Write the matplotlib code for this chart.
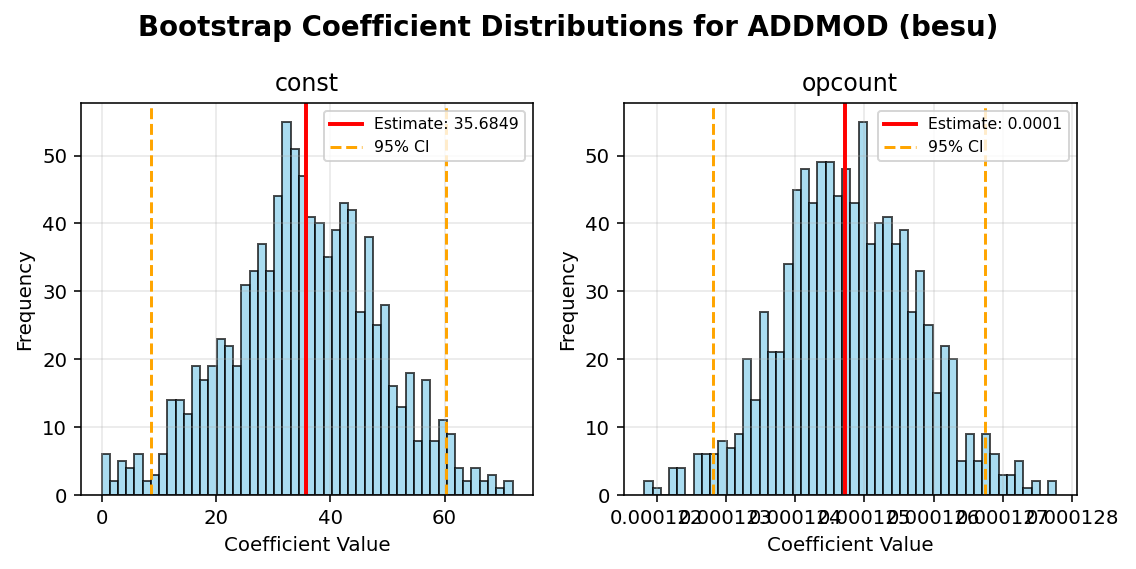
import numpy as np
import matplotlib
matplotlib.use("Agg")
import matplotlib.pyplot as plt

# ---- data ----
const_counts = [6, 2, 5, 4, 6, 2, 3, 6, 14, 14, 12, 19, 17, 19, 23, 22, 19, 31, 33, 37,
                33, 44, 55, 51, 47, 41, 40, 35, 39, 43, 42, 27, 38, 25, 28, 16, 13, 18, 8, 17,
                8, 11, 9, 4, 2, 4, 2, 3, 1, 2]
const_range = (0.0, 71.9)
const_estimate = 35.6849
const_ci = (8.62, 60.3)

opcount_counts = [2, 1, 0, 4, 4, 0, 6, 6, 6, 8, 7, 9, 20, 14, 27, 21, 21, 34, 45, 48,
                  43, 49, 49, 44, 48, 43, 55, 37, 40, 41, 37, 39, 27, 33, 25, 15, 22, 20, 5, 9,
                  5, 9, 6, 3, 3, 5, 1, 2, 0, 2]
opcount_range = (0.00012182, 0.00012777)
opcount_estimate = 0.00012472
opcount_ci = (0.00012281, 0.00012674)
opcount_label = "0.0001"

panels = [
    ("const", const_counts, const_range, const_estimate, const_ci, "35.6849"),
    ("opcount", opcount_counts, opcount_range, opcount_estimate, opcount_ci, opcount_label),
]

fig = plt.figure(figsize=(1136 / 142, 569 / 142), dpi=142)
fig.suptitle("Bootstrap Coefficient Distributions for ADDMOD (besu)",
             fontsize=14, fontweight="bold", y=0.975)

positions = [[0.0713, 0.130, 0.398, 0.689], [0.549, 0.130, 0.399, 0.689]]

for pos, (name, counts, rng, est, ci, estlabel) in zip(positions, panels):
    ax = fig.add_axes(pos)
    edges = np.linspace(rng[0], rng[1], len(counts) + 1)
    centers = (edges[:-1] + edges[1:]) / 2
    ax.hist(centers, bins=edges, weights=counts, color="skyblue",
            edgecolor="black", alpha=0.7)
    ax.axvline(est, color="red", linewidth=2, label=f"Estimate: {estlabel}")
    ax.axvline(ci[0], color="orange", linestyle="--", linewidth=1.5, label="95% CI")
    ax.axvline(ci[1], color="orange", linestyle="--", linewidth=1.5)
    ax.set_title(name, fontsize=12)
    ax.set_xlabel("Coefficient Value", fontsize=10)
    ax.set_ylabel("Frequency", fontsize=10)
    ax.grid(True, alpha=0.3)
    ax.legend(fontsize=8, loc="upper right")
    ax.tick_params(labelsize=10)

fig.savefig("out.png", dpi=142)
